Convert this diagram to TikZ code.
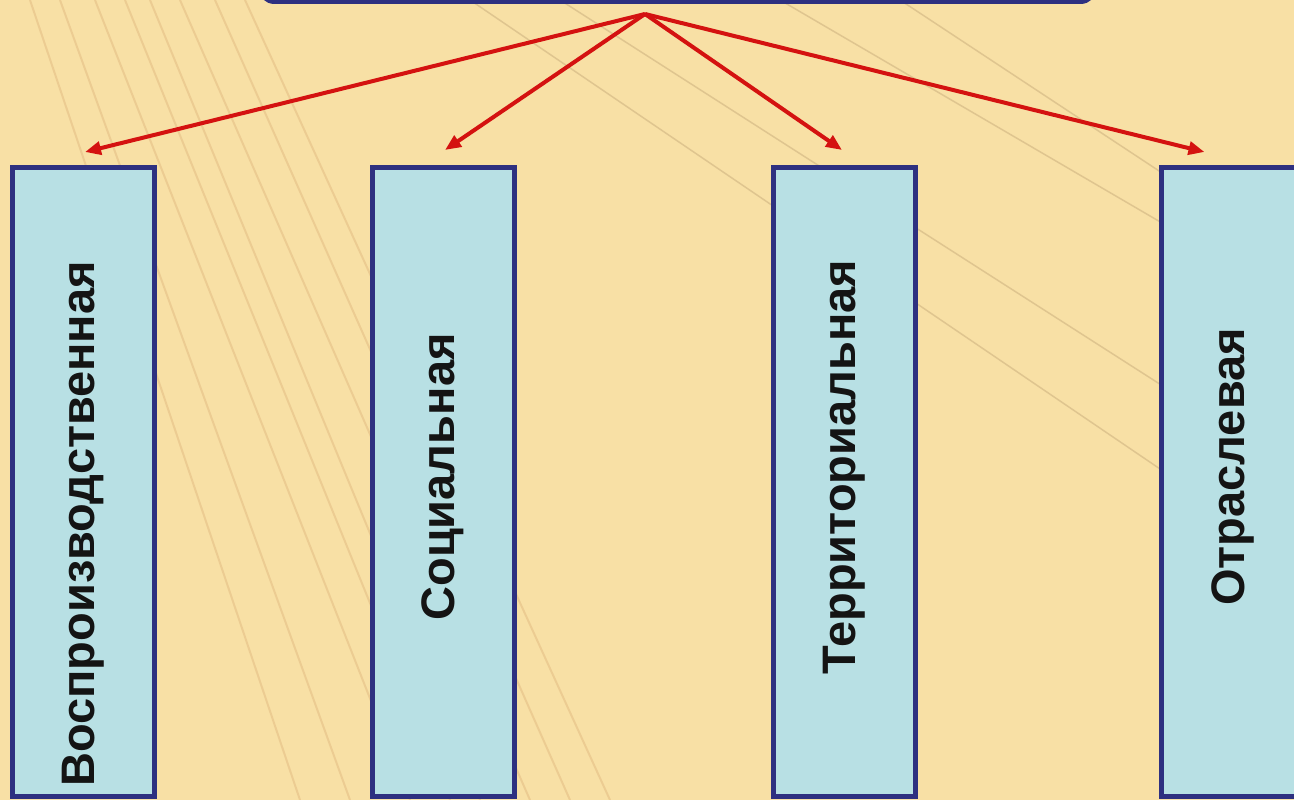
\documentclass[tikz,border=0pt]{standalone}
\usepackage{fontspec}
\setmainfont{Liberation Sans}
\usetikzlibrary{arrows.meta,positioning}
\definecolor{bgsand}{RGB}{248,224,165}
\definecolor{boxfill}{RGB}{184,224,228}
\definecolor{boxline}{RGB}{46,48,128}
\definecolor{arrred}{RGB}{212,18,16}
\definecolor{streak}{RGB}{214,168,112}
\begin{document}
\begin{tikzpicture}[x=1pt,y=-1pt,
    kind/.style={draw=boxline,line width=5pt,fill=boxfill,
      minimum width=142pt,minimum height=629pt,inner sep=0pt},
    kindtext/.style={rotate=90,text=black!92,inner sep=0pt,
      font=\fontsize{47}{56}\selectfont\bfseries},
    link/.style={draw=arrred,line width=4pt,
      -{Triangle[length=16pt,width=13pt]}}]
  % Page and sandy background
  \useasboundingbox (0,0) rectangle (1294,800);
  \fill[bgsand] (0,0) rectangle (1294,800);
  % Streaks of the texture
  \foreach \a/\b in {30/300,60/350,95/410,125/450,150/480,180/530,215/570,245/610}
    \draw[streak,opacity=.35,line width=2pt] (\a,0) -- (\b,800);
  \foreach \a/\b in {470/560,560/470,780/300,900/260}
    \draw[streak!70!black,opacity=.25,line width=1.5pt] (\a,0) -- (1294,\b);
  % Top box (cut by the page edge)
  \node[draw=boxline,line width=5pt,fill=boxfill,rounded corners=14pt,
    minimum width=834pt,minimum height=80pt] (top) at (677.5,-38.5) {};
  \coordinate (apex) at (645,14);
  % The four kinds
  \node[kind] (b1) at (83.5,482) {};
  \node[kind] (b2) at (443,482) {};
  \node[kind] (b3) at (844.5,482) {};
  \node[kind] (b4) at (1232.5,482) {};
  \node[kindtext] (t1) at ([yshift=-42pt]b1.center) {Воспроизводственная};
  \node[kindtext] (t2) at ([yshift=5pt]b2.center) {Социальная};
  \node[kindtext] (t3) at ([yshift=15pt]b3.center) {Территориальная};
  \node[kindtext] (t4) at ([yshift=15pt]b4.center) {Отраслевая};
  % Arrows
  \draw[link] (apex) -- ([xshift=1.5pt,yshift=13pt]b1.north);
  \draw[link] (apex) -- ([xshift=2pt,yshift=15pt]b2.north);
  \draw[link] (apex) -- ([xshift=-2.5pt,yshift=15pt]b3.north);
  \draw[link] (apex) -- ([xshift=-28pt,yshift=13pt]b4.north);
\end{tikzpicture}
\end{document}
